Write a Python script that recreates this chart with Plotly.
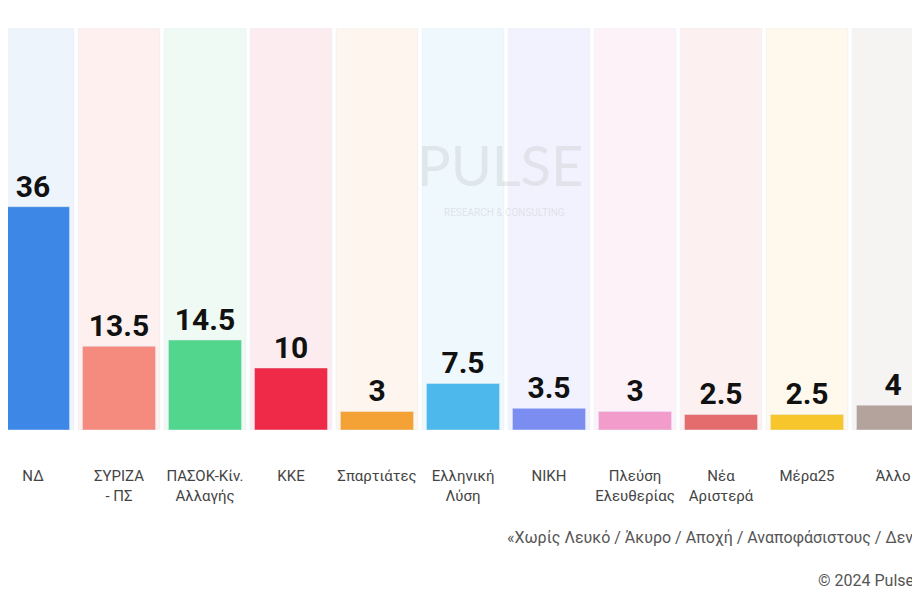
import plotly.graph_objects as go

labels = ["ΝΔ", "ΣΥΡΙΖΑ<br>- ΠΣ", "ΠΑΣΟΚ-Κίν.<br>Αλλαγής", "ΚΚΕ", "Σπαρτιάτες", "Ελληνική<br>Λύση",
          "ΝΙΚΗ", "Πλεύση<br>Ελευθερίας", "Νέα<br>Αριστερά", "Μέρα25", "Άλλο"]
values = [36, 13.5, 14.5, 10, 3, 7.5, 3.5, 3, 2.5, 2.5, 4]
value_text = ["36", "13.5", "14.5", "10", "3", "7.5", "3.5", "3", "2.5", "2.5", "4"]
colors = ["#3d87e6", "#f58a7e", "#52d68e", "#ee2a48", "#f4a136", "#4db8ec", "#7b8df0",
          "#f29ccb", "#e56c6c", "#f7c52c", "#b3a39c"]
bg = ["#eef4fc", "#fdf0ef", "#eefaf3", "#fdecef", "#fef6ee", "#eef8fd", "#f1f2fd",
      "#fdf2f8", "#fcf0f0", "#fef9ec", "#f6f4f3"]

x = list(range(len(labels)))
ymax = 64.8
fig = go.Figure()
fig.add_bar(x=x, y=[ymax]*len(x), marker_color=bg, width=0.95, hoverinfo="skip")
fig.add_bar(x=x, y=values, marker_color=colors, width=0.85, text=value_text,
            textposition="outside", textfont=dict(size=30, color="#111", family="Roboto", weight="bold"),
            cliponaxis=False)
fig.update_layout(
    barmode="overlay", showlegend=False, width=920, height=612,
    margin=dict(l=0, r=0, t=20, b=190), plot_bgcolor="white", paper_bgcolor="white",
    font=dict(family="Roboto", color="#444"),
    xaxis=dict(range=[-25/86, 895/86], showgrid=False, zeroline=False,
               tickvals=x, ticktext=labels, tickfont=dict(size=15, color="#444"), ticks="",
               ticklabelstandoff=35),
    yaxis=dict(range=[0, ymax], visible=False),
)
fig.add_annotation(x=0.535, y=0.66, xref="paper", yref="paper", text="PULSE", showarrow=False,
                   font=dict(size=56, color="rgba(180,180,180,0.25)", family="Lato"))
fig.add_annotation(x=0.54, y=0.54, xref="paper", yref="paper", text="RESEARCH & CONSULTING",
                   showarrow=False, font=dict(size=10, color="rgba(180,180,180,0.3)"))
fig.add_annotation(x=497/920, y=-0.296, xref="paper", yref="paper", xanchor="left",
                   text="«Χωρίς Λευκό / Άκυρο / Αποχή / Αναποφάσιστους / Δεν απαντώ»",
                   showarrow=False, font=dict(size=16, color="#555"))
fig.add_annotation(x=808/920, y=-0.403, xref="paper", yref="paper", xanchor="left",
                   text="© 2024 Pulse RC", showarrow=False, font=dict(size=16, color="#555"))
fig.write_html("out.html")
